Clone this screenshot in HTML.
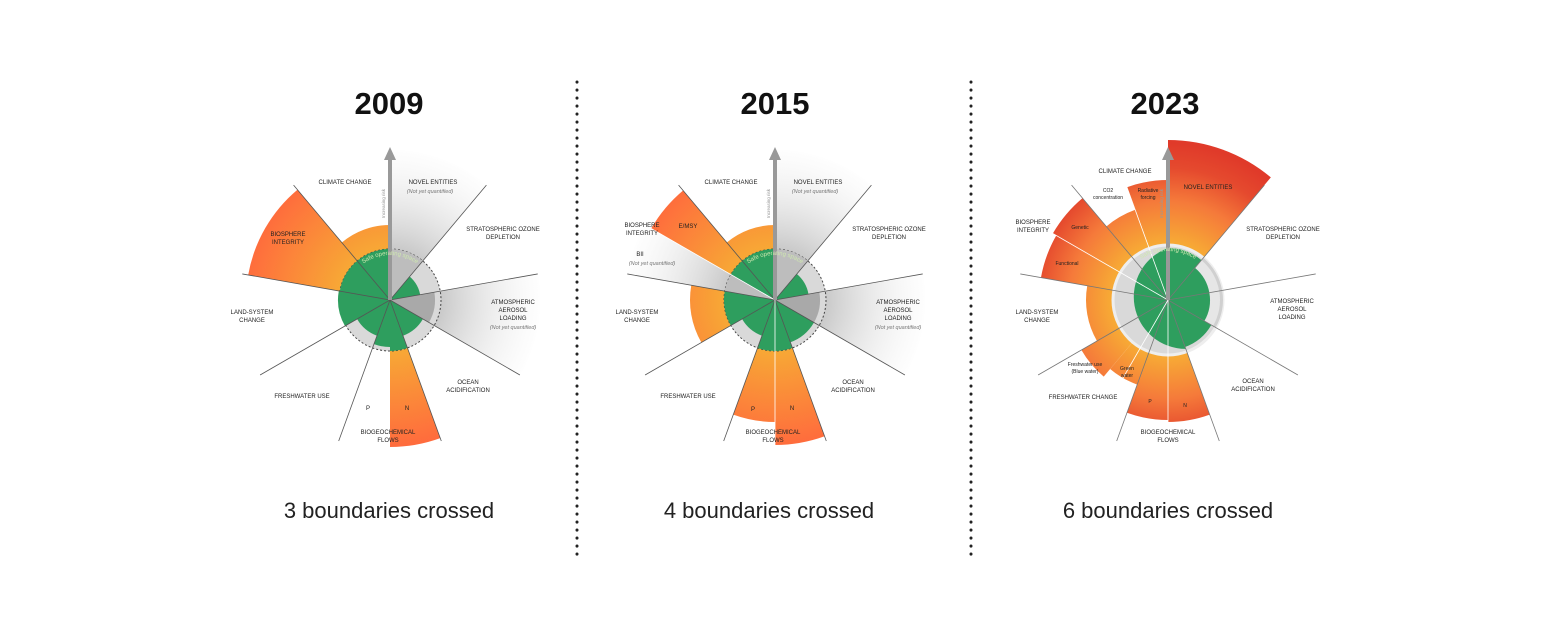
<!DOCTYPE html>
<html><head><meta charset="utf-8">
<style>
html,body{margin:0;padding:0;background:#fff;}
body{width:1550px;height:624px;overflow:hidden;font-family:"Liberation Sans",sans-serif;}
svg text{font-family:"Liberation Sans",sans-serif;}
</style></head>
<body>
<svg id="s" width="1550" height="624" viewBox="0 0 1550 624" xmlns="http://www.w3.org/2000/svg">
<defs>
</defs>
<g font-weight="bold" font-size="31" text-anchor="middle" fill="#111">
<text x="389" y="114">2009</text><text x="775" y="114">2015</text><text x="1165" y="114">2023</text>
</g>
<g font-size="22" text-anchor="middle" fill="#222">
<text x="389" y="518">3 boundaries crossed</text><text x="769" y="518">4 boundaries crossed</text><text x="1168" y="518">6 boundaries crossed</text>
</g>
<line x1="577" y1="82" x2="577" y2="556" stroke="#222" stroke-width="3" stroke-dasharray="0.1 7.9" stroke-linecap="round"/>
<line x1="971" y1="82" x2="971" y2="556" stroke="#222" stroke-width="3" stroke-dasharray="0.1 7.9" stroke-linecap="round"/>
<g id="d1"></g><g id="d2"></g><g id="d3"></g>
</svg>
<script>
var NS="http://www.w3.org/2000/svg",S=document.getElementById('s'),defs=S.querySelector('defs');
var gid=0;
function el(p,t,a,txt){var e=document.createElementNS(NS,t);for(var k in a)e.setAttribute(k,a[k]);if(txt!=null)e.textContent=txt;p.appendChild(e);return e;}
function pt(cx,cy,r,a){a=a*Math.PI/180;return [cx+r*Math.sin(a),cy-r*Math.cos(a)];}
function wedge(cx,cy,r0,r1,a0,a1){var p1=pt(cx,cy,r1,a0),p2=pt(cx,cy,r1,a1),p3=pt(cx,cy,r0,a1),p4=pt(cx,cy,r0,a0);
var d='M'+p4+' L'+p1+' A'+r1+' '+r1+' 0 0 1 '+p2+' L'+p3;
if(r0>0)d+=' A'+r0+' '+r0+' 0 0 0 '+p4;d+=' Z';return d;}
function rg(cx,cy,stops){var id='g'+(gid++);var g=el(defs,'radialGradient',{id:id,gradientUnits:'userSpaceOnUse',cx:cx,cy:cy,r:165});
stops.forEach(function(s){el(g,'stop',{offset:s[0],'stop-color':s[1],'stop-opacity':s[2]==null?1:s[2]});});return 'url(#'+id+')';}
function draw(gidn,cx,cy,cfg){
var G=document.getElementById(gidn);
var hot=rg(cx,cy,cfg.hot), gray=rg(cx,cy,[[0.3,'#c8c8c8'],[0.95,'#ffffff',0.3]]);
cfg.w.forEach(function(w){var f=w[3]=='h'?hot:(w[3]=='g'?gray:w[3]);el(G,'path',{d:wedge(cx,cy,0,w[2],w[0],w[1]),fill:f});});
el(G,'circle',{cx:cx,cy:cy,r:cfg.R,fill:'#d9d9d9',stroke:cfg.dash?'#444':'#eee','stroke-width':cfg.dash?1:3,'stroke-dasharray':cfg.dash?'2 2':''});
el(G,'circle',{cx:cx,cy:cy,r:cfg.R*0.6,fill:'#2e9e5e'});
cfg.gw.forEach(function(w){el(G,'path',{d:wedge(cx,cy,0,w[2],w[0],w[1]),fill:w[3]||'#2e9e5e'});});
(cfg.inner||[]).forEach(function(w){el(G,'path',{d:wedge(cx,cy,0,w[2],w[0],w[1]),fill:w[3]});});
for(var a=0;a<360;a+=40){var p=pt(cx,cy,cfg.L[a/40],a);el(G,'line',{x1:cx,y1:cy,x2:p[0],y2:p[1],stroke:cfg.lc||'#555','stroke-width':0.8});}
(cfg.sub||[]).forEach(function(s){var p=pt(cx,cy,s[1],s[0]);el(G,'line',{x1:cx,y1:cy,x2:p[0],y2:p[1],stroke:'#fff','stroke-width':0.8});});
el(G,'rect',{x:cx-2,y:cy-145,width:4,height:145,fill:'#999'});
el(G,'path',{d:'M'+(cx-6)+' '+(cy-140)+' L'+cx+' '+(cy-153)+' L'+(cx+6)+' '+(cy-140)+'Z',fill:'#999'});
el(G,'text',{x:0,y:0,'font-size':4.5,fill:'#999',transform:'translate('+(cx-5)+','+(cy-82)+') rotate(-90)'},'Increasing risk');
var id='arc'+gidn;var r=cfg.R-6;var a1=pt(cx,cy,r,-45),a2=pt(cx,cy,r,45);
el(defs,'path',{id:id,d:'M'+a1+' A'+r+' '+r+' 0 0 1 '+a2});
var t=el(G,'text',{'font-size':6,fill:'#cfe8b0'});el(t,'textPath',{href:'#'+id,startOffset:'50%','text-anchor':'middle'},'Safe operating space');
cfg.lab.forEach(function(l){var a={x:l[0],y:l[1],'font-size':l[3]||6,'text-anchor':'middle',fill:l[4]||'#222'};if(l[5])a['font-style']='italic';el(G,'text',a,l[2]);});
}
var NQ='(Not yet quantified)';
draw('d1',390,300,{R:51,dash:1,hot:[[0.3,'#f7a935'],[0.9,'#ff6a3d']],
L:[150,150,150,150,150,150,150,150,150],
w:[[0,40,150,'g'],[80,120,150,'g'],[320,360,75,'h'],[280,320,144,'h'],[160,180,147,'h']],
gw:[[320,360,51],[280,320,51],[240,280,52],[200,240,38],[180,200,47],[160,180,51],[120,160,38],[40,80,26]],
inner:[[80,120,45,'#a9a9a9'],[0,40,51,'#bdbdbd']],
lab:[[345,184,'CLIMATE CHANGE'],[433,184,'NOVEL ENTITIES'],[430,193,NQ,5.5,'#777',1],[503,231,'STRATOSPHERIC OZONE'],[503,239,'DEPLETION'],
[513,304,'ATMOSPHERIC'],[513,312,'AEROSOL'],[513,320,'LOADING'],[513,329,NQ,5.5,'#777',1],[468,384,'OCEAN'],[468,392,'ACIDIFICATION'],
[388,434,'BIOGEOCHEMICAL'],[388,442,'FLOWS'],[368,410,'P'],[407,410,'N'],[302,398,'FRESHWATER USE'],[252,314,'LAND-SYSTEM'],[252,322,'CHANGE'],
[288,236,'BIOSPHERE'],[288,244,'INTEGRITY']]});
draw('d2',775,300,{R:51,dash:1,hot:[[0.3,'#f7a935'],[0.9,'#ff6a3d']],
L:[150,150,150,150,150,150,150,150,150],
w:[[0,40,150,'g'],[80,120,150,'g'],[280,300,150,'g'],[320,360,75,'h'],[300,320,143,'h'],[240,280,85,'h'],[160,180,145,'h'],[180,200,122,'h']],
gw:[[320,360,51],[300,320,51],[240,280,51],[200,240,38],[180,200,51],[160,180,51],[120,160,45],[40,80,34]],
inner:[[80,120,45,'#a9a9a9'],[0,40,51,'#bdbdbd'],[280,300,51,'#bdbdbd']],
sub:[[180,150],[300,150]],
lab:[[731,184,'CLIMATE CHANGE'],[818,184,'NOVEL ENTITIES'],[815,193,NQ,5.5,'#777',1],[889,231,'STRATOSPHERIC OZONE'],[889,239,'DEPLETION'],
[898,304,'ATMOSPHERIC'],[898,312,'AEROSOL'],[898,320,'LOADING'],[898,329,NQ,5.5,'#777',1],[853,384,'OCEAN'],[853,392,'ACIDIFICATION'],
[773,434,'BIOGEOCHEMICAL'],[773,442,'FLOWS'],[753,411,'P'],[792,410,'N'],[688,398,'FRESHWATER USE'],[637,314,'LAND-SYSTEM'],[637,322,'CHANGE'],
[642,227,'BIOSPHERE'],[642,235,'INTEGRITY'],[688,228,'E/MSY'],[640,256,'BII'],[652,265,NQ,5.5,'#777',1]]});
draw('d3',1168,300,{R:55,dash:0,lc:'#777',hot:[[0.35,'#f7a935'],[0.6,'#f57a3a'],[0.8,'#e54a2e'],[0.95,'#e03a2a']],
L:[150,150,150,150,150,150,150,150,150],
w:[[0,40,160,'h'],[340,360,120,'h'],[320,340,96,'h'],[300,320,133,'h'],[280,300,129,'h'],[240,280,82,'h'],[220,240,100,'h'],[200,220,90,'h'],[180,200,120,'h'],[160,180,122,'h']],
gw:[[0,360,52]],
inner:[[40,120,55,'#d0d0d0'],[40,120,52,'#e6e6e6'],[40,80,42,'#2e9e5e'],[80,120,42,'#2e9e5e'],[120,160,50,'#2e9e5e'],[0,40,52,'#2e9e5e'],[160,360,52,'#2e9e5e']],
sub:[[180,130],[210,120],[300,150],[340,150]],
lab:[[1125,173,'CLIMATE CHANGE'],[1108,192,'CO2',5],[1108,199,'concentration',5],[1148,192,'Radiative',5],[1148,199,'forcing',5],[1208,189,'NOVEL ENTITIES'],
[1283,231,'STRATOSPHERIC OZONE'],[1283,239,'DEPLETION'],[1292,303,'ATMOSPHERIC'],[1292,311,'AEROSOL'],[1292,319,'LOADING'],[1253,383,'OCEAN'],[1253,391,'ACIDIFICATION'],
[1168,434,'BIOGEOCHEMICAL'],[1168,442,'FLOWS'],[1150,403,'P',5],[1185,407,'N',5],[1083,399,'FRESHWATER CHANGE'],[1085,366,'Freshwater use',5],[1085,373,'(Blue water)',5],
[1127,370,'Green',5],[1127,377,'water',5],[1037,314,'LAND-SYSTEM'],[1037,322,'CHANGE'],[1033,224,'BIOSPHERE'],[1033,232,'INTEGRITY'],[1080,229,'Genetic',5],[1067,265,'Functional',5]]});
</script>
</body></html>
